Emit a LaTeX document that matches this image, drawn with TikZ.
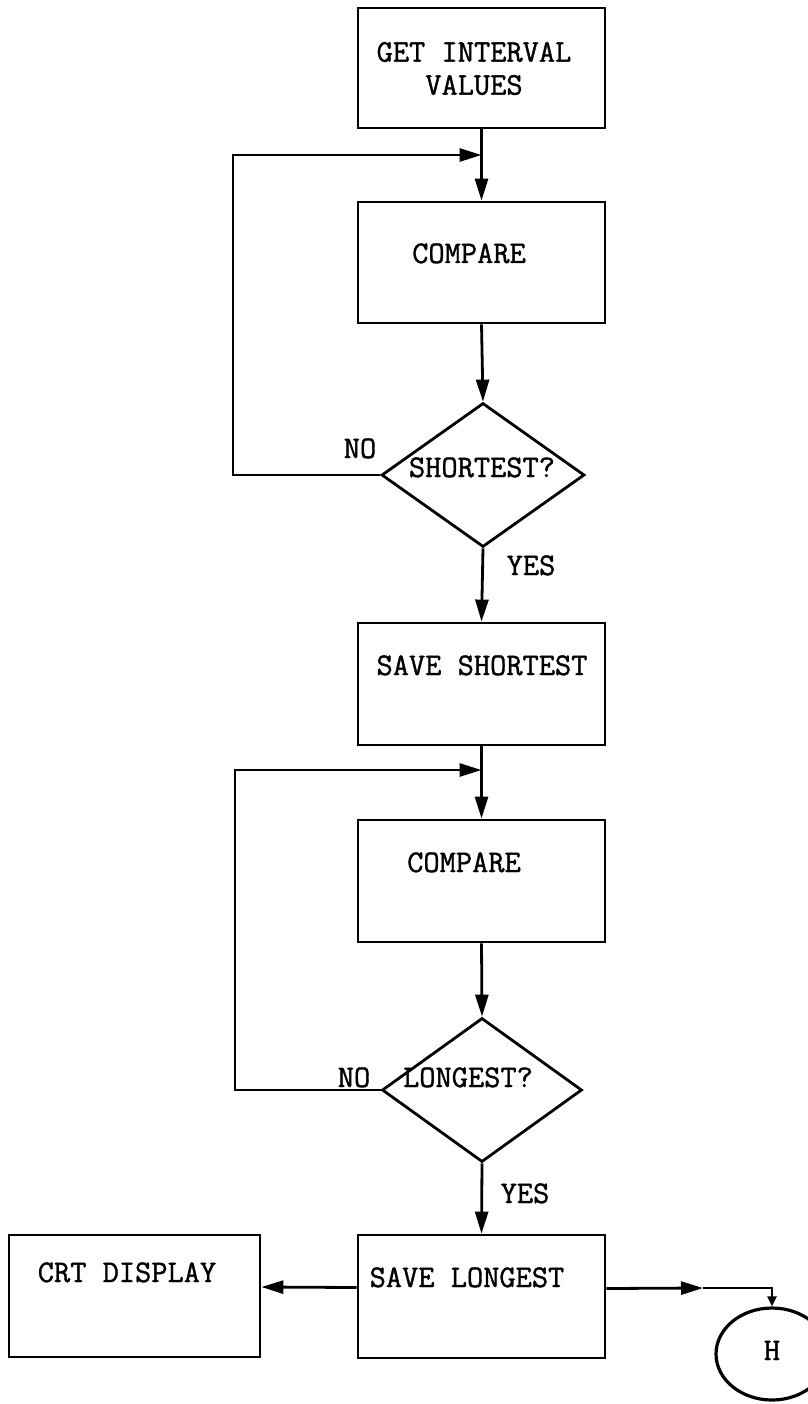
\documentclass[tikz,border=0pt]{standalone}
\usepackage{fontspec}
\newfontfamily\tw[FakeBold=1.2]{Latin Modern Mono}
\usetikzlibrary{arrows.meta,shapes.geometric}
\begin{document}
\begin{tikzpicture}[x=1pt,y=-1pt,
  ln/.style={line width=2.8pt},
  arr/.style={ln,-{Triangle[length=22pt,width=13pt]}},
  sarr/.style={ln,-{Triangle[length=10pt,width=9pt]}},
  box/.style={draw,ln,rectangle,inner sep=0pt,minimum width=247pt,minimum height=121pt},
  dia/.style={draw,ln,diamond,inner sep=0pt,minimum width=203pt,minimum height=144pt},
  lbl/.style={font=\tw\fontsize{31.5}{33}\selectfont,inner sep=0pt,anchor=base}]
\useasboundingbox (0,0) rectangle (807,1404);
% boxes
\node[box,minimum height=120pt] (b1) at (481.5,68) {};
\node[box] (c1) at (481.5,262.5) {};
\node[dia] (d1) at (483,475) {};
\node[box,minimum height=122pt] (s1) at (481.5,684) {};
\node[box,minimum height=122pt] (c2) at (481.5,881) {};
\node[dia,minimum width=200pt] (d2) at (482,1090) {};
\node[box,minimum height=123pt] (s2) at (481.5,1296.5) {};
\node[box,minimum width=251pt,minimum height=122pt] (crt) at (134.5,1296) {};
\node[draw,line width=3.2pt,ellipse,inner sep=0pt,minimum width=112pt,minimum height=92pt] (h) at (772,1354) {};
% texts
\node[lbl,anchor=center,align=center] (t1) at (474,68.5) {GET INTERVAL\\VALUES};
\node[lbl] (t2) at (469,263) {COMPARE};
\node[lbl] (t3) at (482,477) {SHORTEST?};
\node[lbl] (no1) at (360,458) {NO};
\node[lbl] (yes1) at (531,575) {YES};
\node[lbl] (t4) at (482,675) {SAVE SHORTEST};
\node[lbl] (t5) at (464,872) {COMPARE};
\node[lbl] (t6) at (468,1087) {LONGEST?};
\node[lbl] (no2) at (354,1087) {NO};
\node[lbl] (yes2) at (525,1203) {YES};
\node[lbl] (t7) at (467,1287) {SAVE LONGEST};
\node[lbl] (t8) at (127,1282) {CRT DISPLAY};
\node[lbl] (th) at (772,1360) {H};
% junctions
\coordinate (j1) at (481.5,155);
\coordinate (L1) at (233,155);
\coordinate (j2) at (481.5,770);
\coordinate (L2) at (235,770);
\coordinate (m) at (703,1288);
\coordinate (k) at (772,1288);
% connectors
\draw[arr] (b1.south) -- (c1.north);
\draw[arr] (d1.west) -| (L1) -- (j1);
\draw[arr] (c1.south) -- (d1.north);
\draw[arr] (d1.south) -- (s1.north);
\draw[arr] (s1.south) -- (c2.north);
\draw[arr] (d2.west) -| (L2) -- (j2);
\draw[arr] (c2.south) -- (d2.north);
\draw[arr] (d2.south) -- (s2.north);
\draw[arr] ([yshift=9pt]s2.west) -- ([yshift=9pt]crt.east);
\draw[arr] ([yshift=8pt]s2.east) -- (m);
\draw[sarr] (m) -- (k) -- (h.north);
\end{tikzpicture}
\end{document}
